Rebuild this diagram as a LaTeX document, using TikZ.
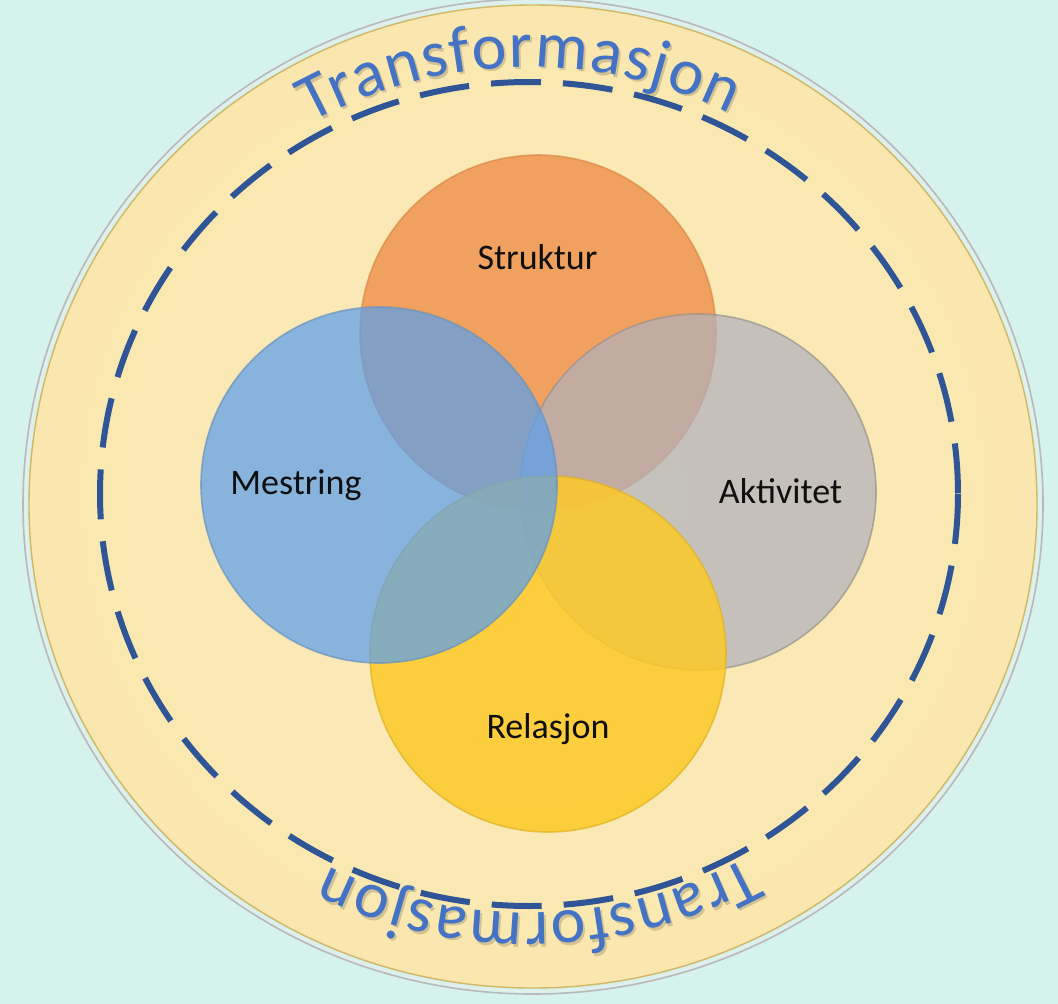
\documentclass[tikz,border=0pt]{standalone}
\usepackage{fontspec}
\setmainfont{Carlito}
\newfontfamily\arcfam{Carlito}
\newcommand\arcfont{\arcfam\fontsize{66}{70}\selectfont}
\newcommand\lblfont{\fontsize{36}{40}\selectfont}
\definecolor{bgmint}{RGB}{214,242,236}
\definecolor{yin}{RGB}{251,236,190}
\definecolor{ymid}{RGB}{250,231,175}
\definecolor{yedge}{RGB}{247,222,150}
\definecolor{yout}{RGB}{245,216,135}
\definecolor{eggrim}{RGB}{212,182,100}
\definecolor{dashblue}{RGB}{47,85,151}
\definecolor{txtblue}{RGB}{68,114,196}
\definecolor{corange}{RGB}{240,160,95}
\definecolor{rorange}{RGB}{214,128,66}
\definecolor{cgray}{RGB}{177,177,188}
\definecolor{rgray}{RGB}{150,145,140}
\definecolor{cyellow}{RGB}{253,202,40}
\definecolor{ryellow}{RGB}{222,178,30}
\definecolor{cblue}{RGB}{91,159,236}
\definecolor{rblue}{RGB}{105,145,190}
\definecolor{lbl}{RGB}{15,15,15}
\pgfdeclareradialshading{eggshade}{\pgfpoint{0bp}{0bp}}{color(0bp)=(yin); color(25bp)=(ymid); color(42bp)=(yedge); color(50bp)=(yout); color(100bp)=(yout)}
% letter / arc offset (px) from the word centre along the baseline
\newcommand\curvedword[1]{%
  \foreach \lch/\off [count=\k] in {T/-201.0,r/-175.09,a/-146.27,n/-111.64,s/-79.91,f/-55.44,o/-26.49,r/3.92,m/43.30,a/86.97,s/117.18,j/139.70,o/166.71,n/202.93}{%
    \pgfmathsetmacro\thang{#1+\off*0.130218}%
    \pgfmathsetmacro\rotang{-atan2(423*sin(\thang),440*cos(\thang))}%
    \node[arcshadow,rotate=\rotang] (sh\k) at ({529+440*sin(\thang)+2},{490-423*cos(\thang)+2.5}) {\lch};
    \node[arcletter,rotate=\rotang] (lt\k) at ({529+440*sin(\thang)},{490-423*cos(\thang)}) {\lch};
  }%
}
\tikzset{
  egg/.style={insert path={({29-#1},505) .. controls ({29-#1},{505-0.5523*(500+#1)}) and ({533-0.5523*(504+#1)},{5-#1}) .. (533,{5-#1}) .. controls ({533+0.5523*(504+#1)},{5-#1}) and ({1037+#1},{505-0.5523*(500+#1)}) .. ({1037+#1},505) .. controls ({1037+#1},{505+0.5523*(483+#1)}) and ({533+0.5523*(504+#1)},{988+#1}) .. (533,{988+#1}) .. controls ({533-0.5523*(504+#1)},{988+#1}) and ({29-#1},{505+0.5523*(483+#1)}) .. ({29-#1},505) -- cycle}},
  arcletter/.style={font=\arcfont, text=txtblue, inner sep=0pt, anchor=base},
  arcshadow/.style={font=\arcfont, text=black, text opacity=0.16, inner sep=0pt, anchor=base},
  dashline/.style={draw=dashblue, line width=6pt, dash pattern=on 50pt off 22pt},
  vcirc/.style={circle, minimum size=356pt, inner sep=0pt, line width=1.6pt},
  lbltext/.style={font=\lblfont, text=lbl, inner sep=0pt, anchor=base},
}
\begin{document}
\begin{tikzpicture}[x=1pt,y=-1pt]
\useasboundingbox (0,0) rectangle (1058,1004);
\fill[bgmint] (0,0) rectangle (1058,1004);
% outer disc with shadow rings
\draw[gray!55, line width=1.6pt, egg=6];
\draw[white!85!gray, line width=1pt, egg=3.5];
\shade[shading=eggshade, egg=0];
\draw[eggrim, line width=1.4pt, egg=0];
% dashed ring
\draw[dashline] (529,494) ellipse [x radius=429, y radius=412];
% Venn circles
\node[vcirc, fill=corange, draw=rorange, draw opacity=0.6] (struktur) at (538,333) {};
\node[vcirc, fill=cgray, fill opacity=0.72, draw=rgray, draw opacity=0.7] (aktivitet) at (698,492) {};
\node[vcirc, fill=cyellow, fill opacity=0.85, draw=ryellow, draw opacity=0.7] (relasjon) at (548,654) {};
\node[vcirc, fill=cblue, fill opacity=0.72, draw=rblue, draw opacity=0.7] (mestring) at (379,485) {};
% labels
\node[lbltext] (lstruktur) at (537.5,269) {Struktur};
\node[lbltext] (lmestring) at (296,494) {Mestring};
\node[lbltext] (laktivitet) at (780.5,503) {Aktivitet};
\node[lbltext] (lrelasjon) at (548,738) {Relasjon};
% curved words
\curvedword{-1.5}
\curvedword{178.5}
\end{tikzpicture}
\end{document}
